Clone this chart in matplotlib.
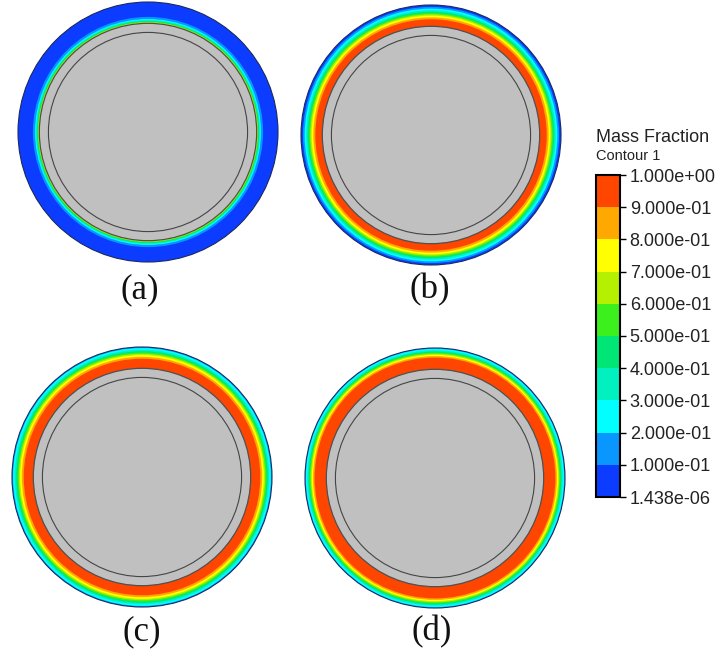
import numpy as np
import matplotlib
matplotlib.use("Agg")
import matplotlib.pyplot as plt
from matplotlib.patches import Circle
from matplotlib.colors import ListedColormap, BoundaryNorm
from matplotlib.cm import ScalarMappable

# ======================
# data
# ======================
# contour levels (band edges) of the mass fraction
levels = [1.438e-06, 0.1, 0.2, 0.3, 0.4, 0.5, 0.6, 0.7, 0.8, 0.9, 1.0]
level_labels = ['1.438e-06', '1.000e-01', '2.000e-01', '3.000e-01', '4.000e-01',
                '5.000e-01', '6.000e-01', '7.000e-01', '8.000e-01', '9.000e-01',
                '1.000e+00']
band_colors = ['#0c3cff', '#0a96ff', '#00ffff', '#00f0c0', '#00e676',
               '#3cf01e', '#b4f000', '#ffff00', '#ffa800', '#ff4600']

# where the mass fraction crosses 0.1, 0.2 ... 0.9, as fraction of the
# distance from the grey wall (0) to the outer edge (1); nan = no crossing
cross_levels = [0.1, 0.2, 0.3, 0.4, 0.5, 0.6, 0.7, 0.8, 0.9]
cross_a = [0.30, 0.20, 0.15, 0.11, 0.08, 0.05, 0.02, np.nan, np.nan]
cross_b = [0.91, 0.83, 0.75, 0.68, 0.62, 0.56, 0.50, 0.42, 0.33]
cross_c = [np.nan, 0.95, 0.87, 0.80, 0.74, 0.68, 0.62, 0.54, 0.45]
cross_d = [np.nan, 0.96, 0.89, 0.83, 0.78, 0.73, 0.68, 0.62, 0.55]
panel_names = ['(a)', '(b)', '(c)', '(d)']

# geometry (outer radius = 1)
r_wall = 0.836
r_inner = 0.766

W, H = 721, 654
fig = plt.figure(figsize=(W / 100, H / 100), dpi=100, facecolor='white')

# panel centres in pixels, radius in pixels
centres = [(148, 132), (431, 135), (142, 477), (435, 478)]
label_pos = [(140, 290), (430, 290), (142, 632), (432, 632)]
R_px = 130
lim = 1.02

for name, cross, (cx, cy), (lx, ly) in zip(panel_names,
                                           [cross_a, cross_b, cross_c, cross_d],
                                           centres, label_pos):
    w = 2 * lim * R_px
    ax = fig.add_axes([(cx - w / 2) / W, 1 - (cy + w / 2) / H, w / W, w / H])
    ax.set_xlim(-lim, lim)
    ax.set_ylim(-lim, lim)
    ax.axis('off')

    # outermost band colour = band just below the lowest crossing
    valid = [k for k, f in enumerate(cross) if not np.isnan(f)]
    outer_band = valid[0]
    ax.add_patch(Circle((0, 0), 1.0, facecolor=band_colors[outer_band],
                        edgecolor='#1a2a60', lw=0.8, zorder=1))
    # then each band, from outside inwards
    for k, f in enumerate(cross):
        if np.isnan(f):
            continue
        r = r_wall + f * (1.0 - r_wall)
        ax.add_patch(Circle((0, 0), r, facecolor=band_colors[k + 1],
                            edgecolor='none', zorder=2 + k))

    # grey solid + inner outline
    ax.add_patch(Circle((0, 0), r_wall, facecolor='#c0c0c0',
                        edgecolor='#505050', lw=0.9, zorder=20))
    ax.add_patch(Circle((0, 0), r_inner, facecolor='none',
                        edgecolor='#454545', lw=0.8, zorder=21))

    fig.text(lx / W, 1 - ly / H, name, ha='center', va='center',
             fontsize=25, family='Liberation Serif', color='#111111')

# ======================
# colour bar
# ======================
cax = fig.add_axes([596 / W, 1 - 497 / H, 24 / W, (497 - 175) / H])
cmap = ListedColormap(band_colors)
norm = BoundaryNorm(np.arange(11), cmap.N)
sm = ScalarMappable(norm=norm, cmap=cmap)
cb = fig.colorbar(sm, cax=cax, ticks=np.arange(11))
cb.ax.set_yticklabels(level_labels, family='Liberation Sans', fontsize=13,
                      color='#222222')
cb.ax.tick_params(length=4, width=1, pad=3)
cb.outline.set_linewidth(1.5)

fig.text(596 / W, 1 - 138 / H, 'Mass Fraction', ha='left', va='center',
         family='Liberation Sans', fontsize=13, color='#222222')
fig.text(596 / W, 1 - 156 / H, 'Contour 1', ha='left', va='center',
         family='Liberation Sans', fontsize=10.5, color='#222222')

fig.savefig('out.png', dpi=100, facecolor='white')
